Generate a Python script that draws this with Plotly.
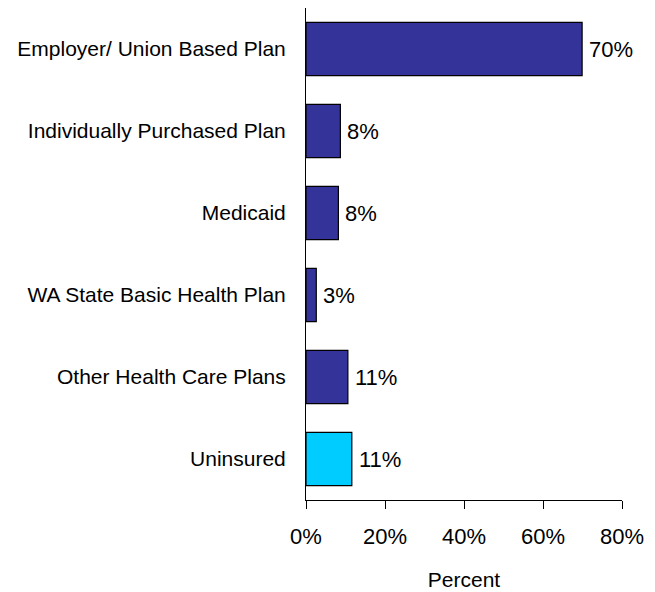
import plotly.graph_objects as go

categories = ["Employer/ Union Based Plan", "Individually Purchased Plan", "Medicaid",
              "WA State Basic Health Plan", "Other Health Care Plans", "Uninsured"]
values = [69.9, 8.7, 8.2, 2.6, 10.6, 11.6]
value_labels = ["70%", "8%", "8%", "3%", "11%", "11%"]
bar_colors = ["#333399", "#333399", "#333399", "#333399", "#333399", "#00CCFF"]
x_ticks = [0, 20, 40, 60, 80]
x_tick_labels = ["0%", "20%", "40%", "60%", "80%"]

FONT = "Liberation Sans Narrow, Arial Narrow, Liberation Sans, Arial, sans-serif"

fig = go.Figure(go.Bar(
    y=categories,
    x=values,
    orientation="h",
    marker=dict(color=bar_colors, line=dict(color="black", width=1.2)),
    cliponaxis=False,
))

for c, v, t in zip(categories, values, value_labels):
    fig.add_annotation(x=v, y=c, text=t, showarrow=False, xanchor="left",
                       xshift=5, font=dict(family=FONT, size=22, color="black"))

fig.update_layout(
    width=655, height=592,
    margin=dict(l=298, r=41, t=0, b=100, pad=0),
    paper_bgcolor="white", plot_bgcolor="white",
    showlegend=False,
    bargap=0.35,
    font=dict(family=FONT, size=21, color="black"),
    xaxis=dict(
        range=[0, 80], tickvals=x_ticks, ticktext=x_tick_labels,
        showgrid=False, zeroline=False, showline=True, linecolor="black", linewidth=1,
        ticks="outside", ticklen=8, tickcolor="black", automargin=False,
        tickfont=dict(family=FONT, size=22), ticklabelstandoff=9,
        title=dict(text="Percent", font=dict(family=FONT, size=21), standoff=23),
    ),
    yaxis=dict(
        autorange="reversed", showgrid=False, zeroline=False, automargin=False,
        showline=True, linecolor="black", linewidth=1, ticks="",
        tickfont=dict(family=FONT, size=21), ticklabelstandoff=15,
    ),
)

fig.write_html("out.html")
